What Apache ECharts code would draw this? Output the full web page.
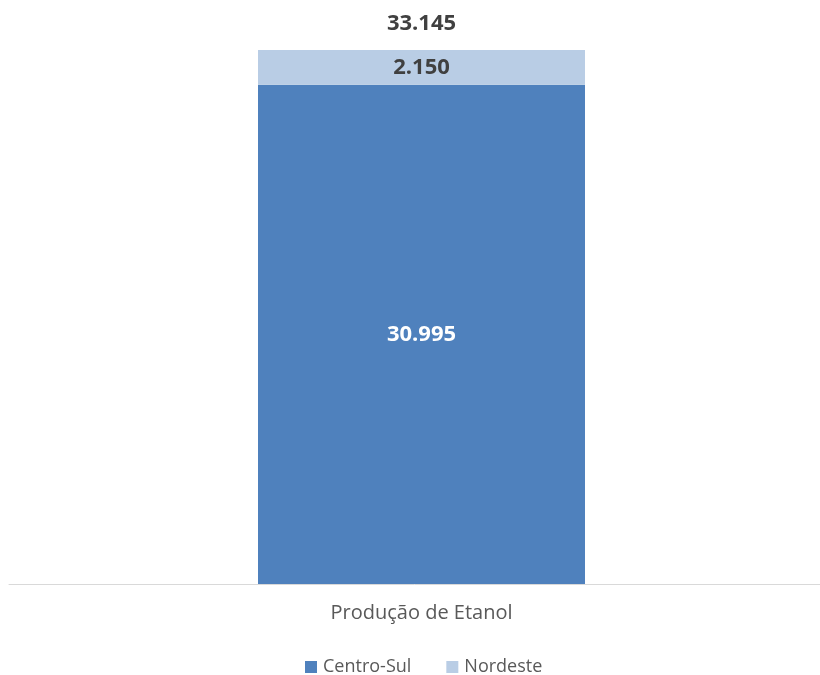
<!DOCTYPE html>
<html><head><meta charset="utf-8">
<script src="https://cdn.jsdelivr.net/npm/echarts@6/dist/echarts.min.js"></script>
<style>html,body{margin:0;padding:0;background:#fff}#c{width:820px;height:675px}</style>
</head><body><div id="c"></div>
<script>
const categories = ['Produção de Etanol'];
const centroSul = [30995];
const nordeste = [2150];
const seriesNames = ['Centro-Sul', 'Nordeste'];
const totals = categories.map((_, i) => centroSul[i] + nordeste[i]);
const fmt = v => v.toLocaleString('de-DE');
const chart = echarts.init(document.getElementById('c'));
chart.setOption({
  animation: false,
  textStyle: { fontFamily: 'Open Sans, Noto Sans, sans-serif' },
  grid: [
    { left: 23, right: 0, top: 50, bottom: 91 },
    { left: 9, right: 0, top: 50, bottom: 91 }
  ],
  legend: {
    data: seriesNames, top: 653, left: 300, itemWidth: 12, itemHeight: 12, itemGap: 35,
    icon: 'rect', textStyle: { color: '#595959', fontSize: 18, padding: [0, 0, 0, 1] }
  },
  xAxis: [
    { type: 'category', data: categories, gridIndex: 0,
      axisLine: { show: false }, axisTick: { show: false },
      axisLabel: { color: '#595959', fontSize: 20, margin: 19 } },
    { type: 'category', data: [''], gridIndex: 1,
      axisLine: { lineStyle: { color: '#d9d9d9', width: 1 } }, axisTick: { show: false },
      axisLabel: { show: false } }
  ],
  yAxis: [
    { type: 'value', min: 0, max: Math.max(...totals), show: false, splitLine: { show: false }, gridIndex: 0 },
    { type: 'value', min: 0, max: 1, show: false, splitLine: { show: false }, gridIndex: 1 }
  ],
  series: [
    { name: seriesNames[0], type: 'bar', stack: 's', data: centroSul, barWidth: 327,
      itemStyle: { color: '#4F81BD' },
      label: { show: true, position: 'inside', color: '#ffffff', fontWeight: 'bold', fontSize: 22, formatter: p => fmt(p.value) } },
    { name: seriesNames[1], type: 'bar', stack: 's', data: nordeste, barWidth: 327,
      itemStyle: { color: '#B9CDE5' },
      label: { show: true, position: 'inside', color: '#404040', fontWeight: 'bold', fontSize: 22, formatter: p => fmt(p.value) } },
    { name: 'Total', type: 'bar', stack: 's', data: categories.map(() => 0), barWidth: 327,
      itemStyle: { color: 'transparent' },
      label: { show: true, position: 'top', distance: 15, color: '#404040', fontWeight: 'bold', fontSize: 22, formatter: p => fmt(totals[p.dataIndex]) } }
  ]
});
</script></body></html>
